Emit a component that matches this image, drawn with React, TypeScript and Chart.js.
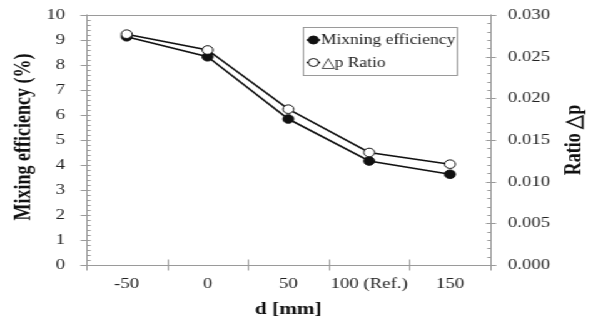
import React, { useEffect, useRef } from "react";
import { Chart, registerables } from "chart.js";

Chart.register(...registerables);

// Distance d [mm] categories
const categories: string[] = ["-50", "0", "50", "100 (Ref.)", "150"];
// Mixing efficiency (%)
const mixingEfficiency: number[] = [9.13, 8.33, 5.84, 4.16, 3.63];
// Pressure-drop ratio
const deltaPRatio: number[] = [0.0277, 0.0258, 0.0187, 0.0135, 0.0121];

const leftTicks = { min: 0, max: 10, step: 1, minor: 0.2 };
const rightTicks = { min: 0, max: 0.03, step: 0.005, minor: 0.001 };

const seriesLabels = ["Mixning efficiency", "\u25B3p Ratio"];
const axisTitles = {
  x: "d [mm]",
  y: "Mixing efficiency (%)",
  y1: "Ratio \u25B3p",
};

const W = 474;
const H = 324;
const STRETCH = 593 / W;

const SERIF = "'Liberation Serif', 'Times New Roman', serif";
const AXIS_GRAY = "#9a9a9a";
const TEXT = "#222";

const axesPlugin = {
  id: "axesDecor",
  beforeDatasetsDraw(chart: any) {
    const { ctx, chartArea } = chart;
    const { left, right, top, bottom } = chartArea;
    const y = chart.scales.y;
    const y1 = chart.scales.y1;
    const x = chart.scales.x;
    ctx.save();
    ctx.strokeStyle = AXIS_GRAY;
    ctx.lineWidth = 1;
    const L = Math.round(left) + 0.5;
    const R = Math.round(right) + 0.5;
    const T = Math.round(top) + 0.5;
    const B = Math.round(bottom) + 0.5;
    ctx.beginPath();
    // frame: left, right, top, bottom
    ctx.moveTo(L, T - 1);
    ctx.lineTo(L, B + 1);
    ctx.moveTo(R, T - 1);
    ctx.lineTo(R, B + 1);
    ctx.moveTo(L - 5, T);
    ctx.lineTo(R + 4, T);
    ctx.moveTo(L - 5, B);
    ctx.lineTo(R + 4, B);

    // left axis minor + major ticks
    const nL = Math.round((leftTicks.max - leftTicks.min) / leftTicks.minor);
    const perMajorL = Math.round(leftTicks.step / leftTicks.minor);
    for (let i = 0; i <= nL; i++) {
      const v = leftTicks.min + i * leftTicks.minor;
      const py = Math.round(y.getPixelForValue(v)) + 0.5;
      if (i % perMajorL === 0) {
        ctx.moveTo(L - 5, py);
        ctx.lineTo(L + 3, py);
      } else {
        ctx.moveTo(L, py);
        ctx.lineTo(L + 3, py);
      }
    }
    // right axis minor + major ticks
    const nR = Math.round((rightTicks.max - rightTicks.min) / rightTicks.minor);
    const perMajorR = Math.round(rightTicks.step / rightTicks.minor);
    for (let i = 0; i <= nR; i++) {
      const v = rightTicks.min + i * rightTicks.minor;
      const py = Math.round(y1.getPixelForValue(v)) + 0.5;
      if (i % perMajorR === 0) {
        ctx.moveTo(R - 4, py);
        ctx.lineTo(R + 4, py);
      } else {
        ctx.moveTo(R - 3, py);
        ctx.lineTo(R, py);
      }
    }
    // x axis ticks at category boundaries
    const n = categories.length;
    for (let i = 0; i <= n; i++) {
      const px = Math.round(x.getPixelForValue(i - 0.5)) + 0.5;
      ctx.moveTo(px, B - 6);
      ctx.lineTo(px, B + 5);
    }
    ctx.stroke();
    ctx.restore();
  },
  afterDraw(chart: any) {
    const { ctx, chartArea } = chart;
    ctx.save();
    ctx.fillStyle = "#111";
    ctx.font = `bold 18px ${SERIF}`;
    ctx.textAlign = "center";
    ctx.textBaseline = "middle";
    const cy = (chartArea.top + chartArea.bottom) / 2;
    // left title
    ctx.save();
    ctx.translate(19, cy - 3);
    ctx.rotate(-Math.PI / 2);
    ctx.fillText(axisTitles.y, 0, 0);
    ctx.restore();
    // right title
    ctx.save();
    ctx.translate(459, cy);
    ctx.rotate(-Math.PI / 2);
    ctx.fillText(axisTitles.y1, 0, 0);
    ctx.restore();
    // bottom title
    ctx.font = `bold 17px ${SERIF}`;
    ctx.fillText(axisTitles.x, (chartArea.left + chartArea.right) / 2, 310);

    // legend box
    const bx = 242.5, by = 27.5, bw = 123, bh = 48;
    ctx.fillStyle = "#fff";
    ctx.fillRect(bx, by, bw, bh);
    ctx.strokeStyle = AXIS_GRAY;
    ctx.lineWidth = 1;
    ctx.strokeRect(bx, by, bw, bh);
    const rows = [40, 62.5];
    chart.data.datasets.forEach((ds: any, i: number) => {
      const ry = rows[i];
      ctx.strokeStyle = ds.borderColor;
      ctx.lineWidth = 1.5;
      ctx.beginPath();
      ctx.moveTo(245, ry);
      ctx.lineTo(256, ry);
      ctx.stroke();
      ctx.beginPath();
      ctx.arc(250.5, ry, 4, 0, Math.PI * 2);
      ctx.fillStyle = ds.pointBackgroundColor;
      ctx.fill();
      ctx.lineWidth = 1;
      ctx.strokeStyle = ds.pointBorderColor;
      ctx.stroke();
      ctx.fillStyle = TEXT;
      ctx.font = `14px ${SERIF}`;
      ctx.textAlign = "left";
      ctx.textBaseline = "middle";
      ctx.fillText(ds.label, 256.5, ry + 0.5);
    });
    ctx.restore();
  },
};

// Vertical axes: fixed width, and no extra top/bottom room for the end labels
const fixVertical = (width: number) => (s: any) => {
  s.width = width;
  s.paddingTop = 0;
  s.paddingBottom = 0;
};

export default function App() {
  const canvasRef = useRef<HTMLCanvasElement | null>(null);

  useEffect(() => {
    const canvas = canvasRef.current;
    if (!canvas) return;
    const chart = new Chart(canvas, {
      type: "line",
      data: {
        labels: categories,
        datasets: [
          {
            label: seriesLabels[0],
            data: mixingEfficiency,
            yAxisID: "y",
            borderColor: "#111",
            borderWidth: 1.6,
            pointRadius: 4.3,
            pointBackgroundColor: "#111",
            pointBorderColor: "#111",
            pointBorderWidth: 1,
            order: 1,
          },
          {
            label: seriesLabels[1],
            data: deltaPRatio,
            yAxisID: "y1",
            borderColor: "#111",
            borderWidth: 1.6,
            pointRadius: 4.3,
            pointBackgroundColor: "#fff",
            pointBorderColor: "#111",
            pointBorderWidth: 1,
            order: 0,
          },
        ],
      },
      options: {
        responsive: false,
        animation: false,
        devicePixelRatio: 1,
        layout: { padding: { top: 15, left: 0, right: 0, bottom: 0 } },
        plugins: { legend: { display: false }, tooltip: { enabled: false } },
        scales: {
          x: {
            type: "category",
            offset: true,
            grid: { display: false, drawTicks: false },
            border: { display: false },
            ticks: {
              color: TEXT,
              font: { family: SERIF, size: 15 },
              padding: 10,
              maxRotation: 0,
              autoSkip: false,
            },
            afterFit: (s: any) => {
              s.height = 59;
              s.paddingLeft = 0;
              s.paddingRight = 0;
            },
          },
          y: {
            position: "left",
            min: leftTicks.min,
            max: leftTicks.max,
            grid: { display: false, drawTicks: false },
            border: { display: false },
            ticks: {
              stepSize: leftTicks.step,
              color: TEXT,
              font: { family: SERIF, size: 15 },
              padding: 17,
            },
            afterFit: fixVertical(69),
          },
          y1: {
            position: "right",
            min: rightTicks.min,
            max: rightTicks.max,
            grid: { display: false, drawTicks: false },
            border: { display: false },
            ticks: {
              stepSize: rightTicks.step,
              color: TEXT,
              font: { family: SERIF, size: 15 },
              padding: 14,
              callback: (v: any) => Number(v).toFixed(3),
            },
            afterFit: fixVertical(82),
          },
        },
      },
      plugins: [axesPlugin],
    });
    return () => chart.destroy();
  }, []);

  return (
    <div
      style={{
        position: "fixed",
        left: 0,
        top: 0,
        width: W,
        height: H,
        background: "#fff",
        transform: `scaleX(${STRETCH})`,
        transformOrigin: "0 0",
      }}
    >
      <canvas ref={canvasRef} width={W} height={H} style={{ display: "block" }} />
    </div>
  );
}
